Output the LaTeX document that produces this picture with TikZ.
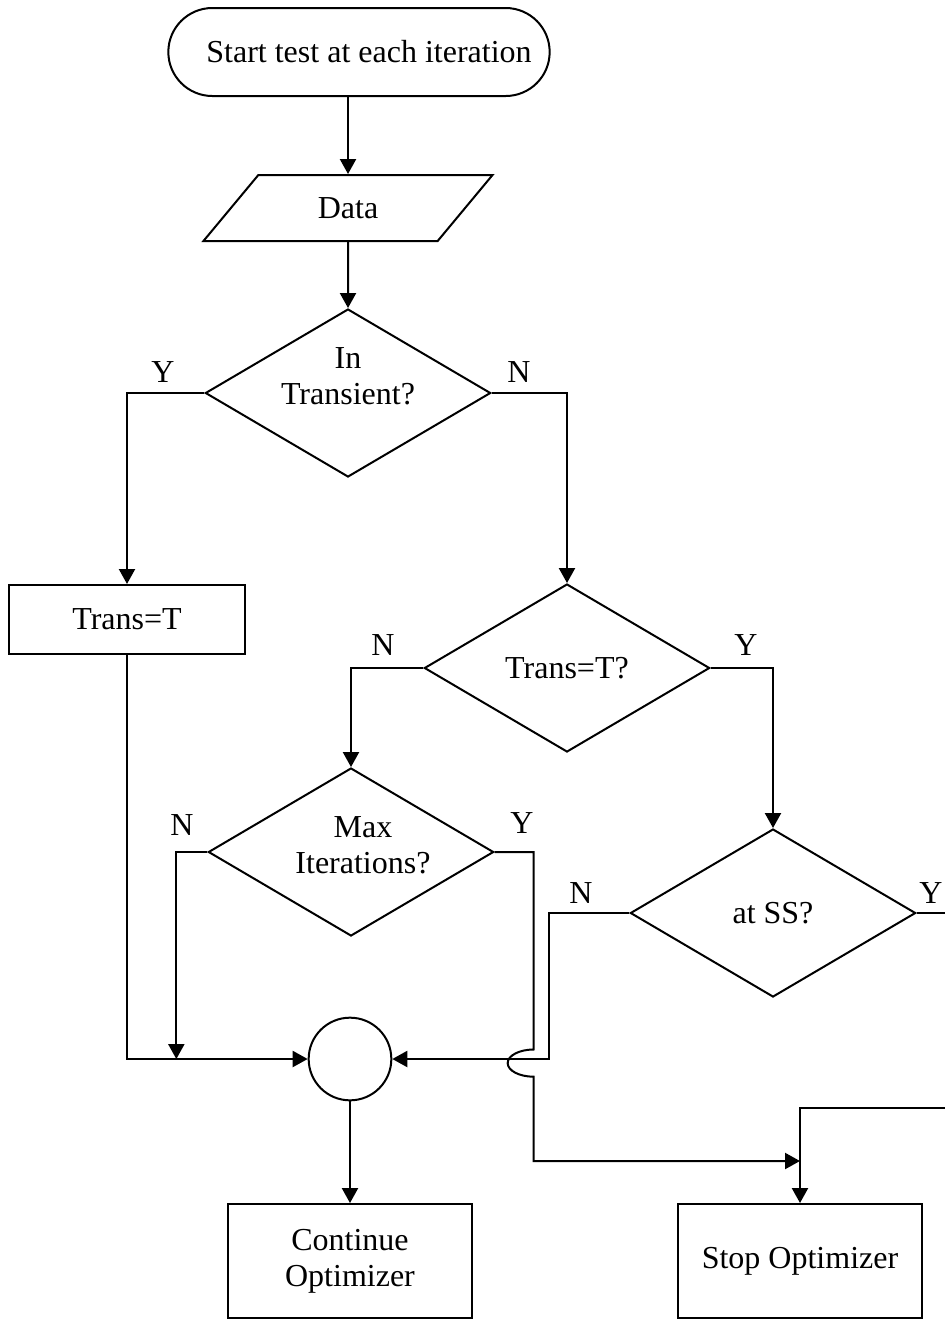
\documentclass[tikz,border=0pt]{standalone}
\usepackage{fontspec}
\setmainfont{Liberation Serif}
\usepackage{tikz}
\usetikzlibrary{arrows.meta}
\usetikzlibrary{calc,positioning}
\usetikzlibrary{shapes.geometric,shapes.misc}

\tikzset{
	terminal/.style={rounded rectangle,minimum width=143pt,minimum height=33pt},
	iobox/.style={trapezium,trapezium left angle=49,trapezium right angle=131,
		trapezium stretches=true,minimum width=108.75pt,minimum height=24.75pt},
	decision/.style={diamond,aspect=1.7,minimum width=107pt,minimum height=63pt},
	process/.style={rectangle,minimum width=91.5pt,minimum height=42.75pt},
	junction/.style={circle,minimum size=31pt},
	inner text/.style={draw=none,align=center},
	yn/.style={inner sep=0pt}
}

\begin{document}
\begin{tikzpicture}[x=0.375pt,y=-0.375pt,line width=0.75pt,
		font=\fontsize{12pt}{13.5pt}\selectfont]
		\useasboundingbox (0,0) rectangle (945,1319);

		\begin{scope}[every node/.style={draw,line width=0.75pt,align=center,inner sep=0pt}]
			\node[terminal,label={[inner text,xshift=3.75pt]center:Start test at each iteration}] (start) at (359,52) {};
			\node[iobox] (data) at (348,208) {Data};
			\node[decision,label={[inner text,yshift=6.4pt]center:{In\\Transient?}}] (trans) at (348,393) {};
			\node[process,minimum width=88.5pt,minimum height=25.9pt] (settrans) at (127,619.5) {Trans=T};
			\node[decision] (chktrans) at (567,668) {Trans=T?};
			\node[decision,label={[inner text,xshift=4.5pt,yshift=2.6pt]center:{Max\\Iterations?}}] (maxit) at (351,852) {};
			\node[decision] (atss) at (773,913) {at SS?};
			\node[junction] (join) at (350,1059) {};
			\node[process] (cont) at (350,1261) {Continue\\Optimizer};
			\node[process] (stop) at (800,1261) {Stop Optimizer};
		\end{scope}

		\begin{scope}[every node/.style={yn}]
			\node (ty) at (163,372) {Y};
			\node (tn) at (519,372) {N};
			\node (cn) at (383,645) {N};
			\node (cy) at (746,645) {Y};
			\node (mn) at (182,825) {N};
			\node (my) at (522,823) {Y};
			\node (sn) at (581,893) {N};
			\node (sy) at (931,893) {Y};
		\end{scope}

		\path (stop.north) ++(0,-42) coordinate (merge);

		\begin{scope}[>={Triangle[length=5.6pt,width=6pt]}]
			\draw[->] (start.south -| data.north) -- (data.north);
			\draw[->] (data.south) -- (trans.north);
			\draw[->] (trans.west) -| (settrans.north);
			\draw[->] (trans.east) -| (chktrans.north);
			\draw[->] (chktrans.west) -| (maxit.north);
			\draw[->] (chktrans.east) -| (atss.north);

			\draw[->] (settrans.south) |- (join.west);
			\draw[->] (maxit.west) -- ++(-31,0) coordinate (nbend) -- (nbend |- join.west);
			\draw[->] (atss.west) -- ++(-80,0) coordinate (ssbend) -- (ssbend |- join.east) -- (join.east);
			\draw[->] (maxit.east) -- ++(39,0) coordinate (ybend)
				-- ($(ybend |- join.east)+(0,-9.5)$)
				arc[start angle=90,end angle=270,x radius=9.75pt,y radius=5.1pt]
				|- (merge);
			\draw[->] (atss.east) -| ++(35,195) -| (stop.north);

			\draw[->] (join) -- (cont);
		\end{scope}
	\end{tikzpicture}
\end{document}
